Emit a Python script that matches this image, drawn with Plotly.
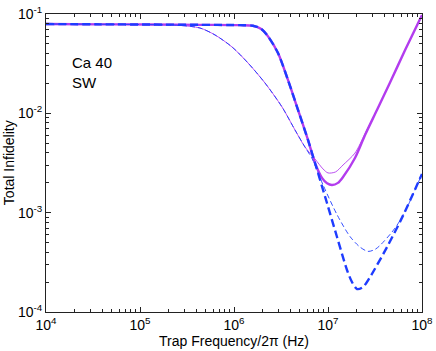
import numpy as np
import plotly.graph_objects as go

# values, as log10 of frequency (Hz) and log10 of infidelity
thick_solid_logf = [4.000, 4.574, 5.106, 5.638, 6.064, 6.200, 6.290, 6.362, 6.468, 6.574, 6.681,
                    6.787, 6.862, 6.936, 6.990, 7.043, 7.106, 7.160, 7.287, 7.394, 7.521,
                    7.660, 7.819, 8.000]
thick_solid_logy = [-1.101, -1.104, -1.106, -1.109, -1.112, -1.118, -1.150, -1.225, -1.393, -1.664, -1.966,
                    -2.268, -2.500, -2.650, -2.705, -2.722, -2.700, -2.641, -2.450, -2.218, -1.966,
                    -1.690, -1.365, -1.010]

thick_dash_logf = [4.000, 4.574, 5.106, 5.638, 6.064, 6.200, 6.290, 6.362, 6.468, 6.574, 6.681,
                   6.787, 6.862, 6.989, 7.096, 7.202, 7.255, 7.309, 7.372, 7.447, 7.628,
                   7.798, 8.000]
thick_dash_logy = [-1.101, -1.104, -1.106, -1.109, -1.112, -1.118, -1.150, -1.225, -1.393, -1.664, -1.966,
                   -2.268, -2.500, -2.903, -3.245, -3.577, -3.698, -3.769, -3.749, -3.648, -3.346,
                   -3.030, -2.610]

thin_solid_logf = [4.000, 4.574, 5.106, 5.426, 5.638, 5.798, 5.979, 6.149, 6.330, 6.511,
                   6.649, 6.755, 6.862, 6.947, 7.000, 7.080, 7.160, 7.287, 7.394, 7.521,
                   7.660, 7.819, 8.000]
thin_solid_logy = [-1.101, -1.103, -1.107, -1.115, -1.141, -1.211, -1.332, -1.493, -1.695, -1.936,
                   -2.168, -2.339, -2.460, -2.560, -2.600, -2.590, -2.520, -2.400, -2.205, -1.966,
                   -1.690, -1.365, -1.010]

thin_dash_logf = [4.000, 4.574, 5.106, 5.426, 5.638, 5.798, 5.979, 6.149, 6.330, 6.511,
                  6.649, 6.755, 6.830, 6.947, 7.096, 7.234, 7.340, 7.426, 7.500, 7.553,
                  7.681, 7.766, 7.850, 8.000]
thin_dash_logy = [-1.101, -1.103, -1.107, -1.115, -1.141, -1.211, -1.332, -1.493, -1.695, -1.936,
                  -2.168, -2.339, -2.455, -2.720, -3.020, -3.240, -3.346, -3.390, -3.370, -3.330,
                  -3.195, -3.080, -2.930, -2.610]

x_decades = [4, 5, 6, 7, 8]
y_decades = [-4, -3, -2, -1]

MAGENTA = "#b33cee"
BLUE = "#1e3cff"
FONT = "Liberation Sans, Arial, sans-serif"

fig = go.Figure()

def add(logf, logy, color, width, dash):
    fig.add_trace(go.Scatter(
        x=np.power(10.0, logf), y=np.power(10.0, logy), mode="lines",
        line=dict(color=color, width=width, dash=dash, shape="spline", smoothing=0.8),
        showlegend=False, hoverinfo="skip"))

add(thin_solid_logf, thin_solid_logy, MAGENTA, 0.9, "solid")
add(thick_solid_logf, thick_solid_logy, MAGENTA, 2.4, "solid")
add(thin_dash_logf, thin_dash_logy, BLUE, 0.9, "5px,3px")
add(thick_dash_logf, thick_dash_logy, BLUE, 2.4, "8px,4px")

x_minor = [m * 10.0 ** d for d in x_decades[:-1] for m in range(2, 10)]
y_minor = [m * 10.0 ** d for d in y_decades[:-1] for m in range(2, 10)]

axis_common = dict(
    type="log", showgrid=False, zeroline=False, showline=True, mirror="ticks",
    linecolor="#222", linewidth=1, ticks="inside", ticklen=5, tickcolor="#222",
    tickfont=dict(family=FONT, size=14, color="black"), ticklabeloverflow="allow",
)

fig.update_xaxes(
    **axis_common, range=[4, 8],
    tickvals=[10.0 ** d for d in x_decades],
    ticktext=[f"10<sup>{d}</sup>" for d in x_decades],
    minor=dict(tickmode="array", tickvals=x_minor, ticks="inside", ticklen=3, tickcolor="#222"),
    title=dict(text="Trap Frequency/2π (Hz)", font=dict(family=FONT, size=14, color="black"), standoff=3),
)
fig.update_yaxes(
    **axis_common, range=[-4, -1],
    tickvals=[10.0 ** d for d in y_decades],
    ticktext=[f"10<sup>{d}</sup>" for d in y_decades],
    minor=dict(tickmode="array", tickvals=y_minor, ticks="inside", ticklen=3, tickcolor="#222"),
)

# y title placed by hand, close to the left edge as in the picture
fig.add_annotation(
    x=-0.098, y=0.5, xref="paper", yref="paper", xanchor="center", yanchor="middle",
    text="Total Infidelity", textangle=-90, showarrow=False,
    font=dict(family=FONT, size=14, color="black"),
)

fig.add_annotation(
    x=0.064, y=0.805, xref="paper", yref="paper", xanchor="left", yanchor="middle",
    text="Ca 40<br>SW", showarrow=False, align="left",
    font=dict(family=FONT, size=15, color="black"),
)

fig.update_layout(
    width=436, height=351,
    margin=dict(l=46, r=14, t=14, b=39, autoexpand=False),
    paper_bgcolor="white", plot_bgcolor="white",
    font=dict(family=FONT),
)

# drop the browser's default page margin so the figure sits at the window corner
fig.write_html("out.html", config={"displayModeBar": False},
               post_script="document.body.style.margin='0';")
